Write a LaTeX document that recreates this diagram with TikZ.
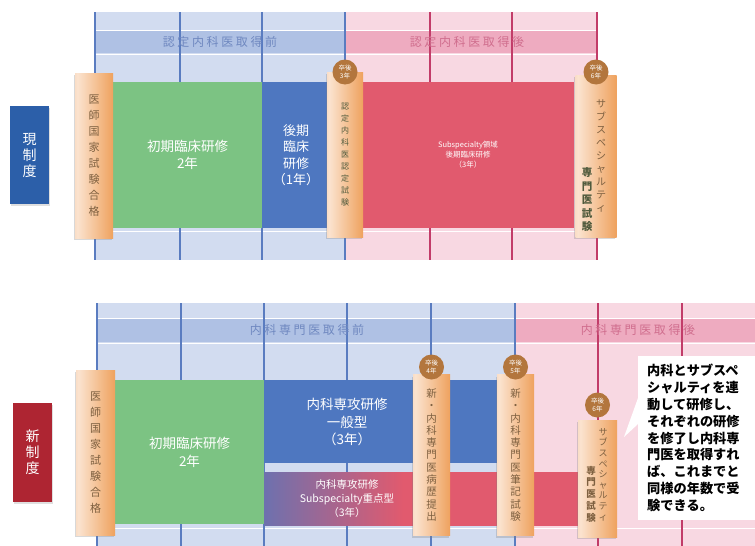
\documentclass[tikz,border=0pt]{standalone}
\usepackage{fontspec}
\setmainfont{Noto Sans CJK JP}
\usetikzlibrary{shadows}
\definecolor{gridB}{HTML}{D2DCF0}
\definecolor{bandB}{HTML}{AFC1E4}
\definecolor{lineB}{HTML}{5A7CC0}
\definecolor{gridP}{HTML}{F8D8E2}
\definecolor{bandP}{HTML}{EEABC0}
\definecolor{lineP}{HTML}{C23C69}
\definecolor{greenbox}{HTML}{7CC383}
\definecolor{bluebox}{HTML}{4E77C0}
\definecolor{redbox}{HTML}{E15A6E}
\definecolor{pilA}{HTML}{F4BE94}
\definecolor{pilL}{HTML}{FBE3CF}
\definecolor{pilR}{HTML}{EC9446}
\definecolor{circ}{HTML}{B3763D}
\definecolor{labB}{HTML}{2C5FA9}
\definecolor{labR}{HTML}{AE2532}
\definecolor{piltext}{HTML}{7E6040}
\definecolor{darktext}{HTML}{4F5A3C}
\definecolor{hdB}{HTML}{6F88C0}
\definecolor{hdP}{HTML}{D06E8E}
\pgfdeclarehorizontalshading{pillarshade}{100bp}{color(0bp)=(pilA); color(6bp)=(pilA); color(28bp)=(pilL); color(85bp)=(pilR); color(100bp)=(pilR)}
\pgfdeclarehorizontalshading{subshade}{100bp}{color(0bp)=(bluebox); color(19bp)=(bluebox); color(47bp)=(redbox); color(100bp)=(redbox)}
\tikzset{
  box/.style={rectangle, inner sep=0pt, outer sep=0pt, draw=none, text=white, align=center},
  pillar/.style={rectangle, inner sep=0pt, outer sep=0pt, shading=pillarshade, text=piltext, align=center,
    drop shadow={opacity=0.3, shadow xshift=-1.5pt, shadow yshift=-2pt}},
  yearcirc/.style={circle, fill=circ, minimum size=25pt, inner sep=0pt, text=white, align=center,
    font=\fontsize{6.5}{7.5}\selectfont},
  label/.style={rectangle, inner sep=0pt, text=white, align=center, font=\fontsize{14}{16}\selectfont,
    drop shadow={opacity=0.25, shadow xshift=1pt, shadow yshift=-1.5pt}},
  header/.style={inner sep=0pt, font=\fontsize{12}{14}\selectfont\addfontfeatures{LetterSpace=22}},
  vtext/.style={inner sep=0pt, align=center},
  gline/.style={line width=1.5pt},
}
\begin{document}
\begin{tikzpicture}[x=1pt,y=-1pt]
\useasboundingbox (0,0) rectangle (755,546);
\fill[white] (0,0) rectangle (755,546);

% ---------- top grid ----------
\fill[gridB] (95,12) rectangle (345,260);
\fill[gridP] (345,12) rectangle (597,260);
\fill[bandB] (95,30) rectangle (345,53);
\fill[bandP] (345,30) rectangle (597,53);
\draw[white, line width=1pt] (95,30) -- (597,30) (95,54) -- (597,54) (95,231) -- (597,231);
\foreach \x in {95,180,262,345} \draw[gline, lineB] (\x,12) -- (\x,260);
\foreach \x in {430,512,597} \draw[gline, lineP] (\x,12) -- (\x,260);
\node[header, text=hdB] (h1) at (220,42) {認定内科医取得前};
\node[header, text=hdP] (h2) at (467,42) {認定内科医取得後};

% ---------- top boxes ----------
\node[box, fill=greenbox, minimum width=149pt, minimum height=146pt,
  font=\fontsize{13.5}{17}\selectfont] (g1) at (187.5,155) {初期臨床研修\\2年};
\node[box, fill=bluebox, minimum width=68pt, minimum height=146pt,
  font=\fontsize{13}{16.5}\selectfont] (b1) at (296,155) {後期\\臨床\\研修\\（1年）};
\node[box, fill=redbox, minimum width=212pt, minimum height=146pt,
  font=\fontsize{7.5}{10}\selectfont] (r1) at (468,155) {Subspecialty領域\\後期臨床研修\\（3年）};

% ---------- top pillars ----------
\node[pillar, minimum width=38pt, minimum height=165pt, font=\fontsize{11}{16}\selectfont] (p1) at (94,155.5)
  {医\\師\\国\\家\\試\\験\\合\\格};
\node[pillar, minimum width=36pt, minimum height=165pt, text=darktext, font=\fontsize{8}{12}\selectfont] (p2) at (345,154.5)
  {認\\定\\内\\科\\医\\認\\定\\試\\験};
\node[pillar, minimum width=41pt, minimum height=162pt] (p3) at (596,156) {};
\node[vtext, text=piltext, font=\fontsize{10}{13}\selectfont] (p3a) at (601,156)
  {サ\\ブ\\ス\\ペ\\シ\\ャ\\ル\\テ\\ィ};
\node[vtext, text=darktext, font=\bfseries\fontsize{10.5}{13.5}\selectfont] (p3b) at (587,200)
  {専\\門\\医\\試\\験};
\node[yearcirc] (c3) at (345,72) {卒後\\3年};
\node[yearcirc] (c6) at (596,72) {卒後\\6年};

% ---------- top label ----------
\node[label, fill=labB, minimum width=39pt, minimum height=98pt] (lab1) at (29.5,155) {現\\制\\度};

% ---------- bottom grid ----------
\fill[gridB] (97,303) rectangle (515,546);
\fill[gridP] (515,303) rectangle (755,546);
\fill[bandB] (97,318) rectangle (515,342);
\fill[bandP] (515,318) rectangle (755,342);
\draw[white, line width=1pt] (97,318) -- (755,318) (97,343) -- (755,343) (97,528) -- (755,528);
\foreach \x in {97,181,264,347,431,515} \draw[gline, lineB] (\x,303) -- (\x,546);
\foreach \x in {598,682} \draw[gline, lineP] (\x,303) -- (\x,546);
\node[header, text=hdB] (h3) at (307,330) {内科専門医取得前};
\node[header, text=hdP] (h4) at (638,330) {内科専門医取得後};

% ---------- bottom boxes ----------
\node[box, fill=greenbox, minimum width=149pt, minimum height=144pt,
  font=\fontsize{13.5}{18}\selectfont] (g2) at (189.5,452) {初期臨床研修\\2年};
\node[box, fill=bluebox, minimum width=233pt, minimum height=83pt] (b2) at (380.5,421.5) {};
\node[box, font=\fontsize{13.5}{17.5}\selectfont] (b2t) at (347,422) {内科専攻研修\\一般型\\（3年）};
\node[box, shading=subshade, minimum width=316pt, minimum height=53pt] (s2) at (422,498.5) {};
\node[box, font=\fontsize{10.5}{14}\selectfont] (s2t) at (347,499) {内科専攻研修\\Subspecialty重点型\\（3年）};

% ---------- bottom pillars ----------
\node[pillar, minimum width=39pt, minimum height=165pt, font=\fontsize{11}{16}\selectfont] (q1) at (95.5,452.5)
  {医\\師\\国\\家\\試\\験\\合\\格};
\node[pillar, minimum width=37pt, minimum height=161pt, font=\fontsize{10.5}{12.3}\selectfont] (q4) at (431.5,455)
  {新\\・\\内\\科\\専\\門\\医\\病\\歴\\提\\出};
\node[pillar, minimum width=37pt, minimum height=161pt, font=\fontsize{10.5}{12.3}\selectfont] (q5) at (515.5,455)
  {新\\・\\内\\科\\専\\門\\医\\筆\\記\\試\\験};
\node[pillar, minimum width=39pt, minimum height=117pt] (q6) at (597.5,478.5) {};
\node[vtext, text=piltext, font=\fontsize{9}{10.6}\selectfont] (q6a) at (603,474.5)
  {サ\\ブ\\ス\\ペ\\シ\\ャ\\ル\\テ\\ィ};
\node[vtext, text=piltext, font=\bfseries\fontsize{9.5}{11.8}\selectfont] (q6b) at (591,494)
  {専\\門\\医\\試\\験};
\node[yearcirc] (c4) at (431.5,367) {卒後\\4年};
\node[yearcirc] (c5) at (515.5,367) {卒後\\5年};
\node[yearcirc] (c6b) at (597.5,405) {卒後\\6年};

% ---------- bottom label ----------
\node[label, fill=labR, minimum width=39pt, minimum height=99pt] (lab2) at (32.5,452.5) {新\\制\\度};

% ---------- callout ----------
\node[rectangle, fill=white, anchor=west, inner xsep=9pt, inner ysep=8pt, text width=102pt, align=left,
  font=\bfseries\fontsize{13.2}{16.8}\selectfont] (co) at (638,438)
  {内科とサブスペ\\シャルティを連\\動して研修し、\\それぞれの研修\\を修了し内科専\\門医を取得すれ\\ば、これまでと\\同様の年数で受\\験できる。};
\coordinate (tip) at (624,437);
\fill[white] ([yshift=40pt]co.west) -- (tip) -- ([yshift=14pt]co.west) -- cycle;
\end{tikzpicture}
\end{document}
